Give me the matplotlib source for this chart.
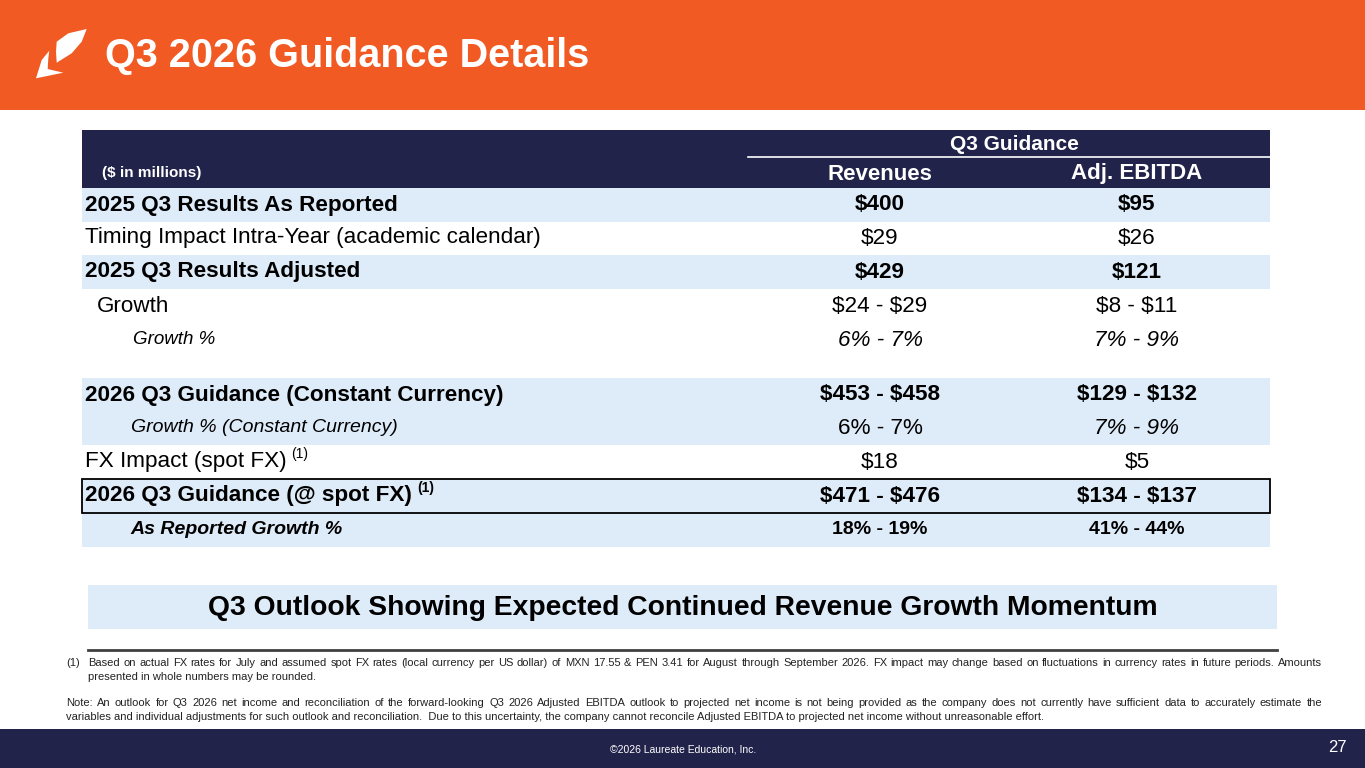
import matplotlib
matplotlib.use("Agg")
import matplotlib.pyplot as plt
from matplotlib.patches import Rectangle, Polygon

plt.rcParams["font.family"] = ["Liberation Sans", "DejaVu Sans"]

# --- данные таблицы ---
title = "Q3 2026 Guidance Details"
units_label = "($ in millions)"
group_header = "Q3 Guidance"
col_headers = ["Revenues", "Adj. EBITDA"]

row_labels = [
    "2025 Q3 Results As Reported",
    "Timing Impact Intra-Year (academic calendar)",
    "2025 Q3 Results Adjusted",
    "Growth",
    "Growth %",
    "2026 Q3 Guidance (Constant Currency)",
    "Growth % (Constant Currency)",
    "FX Impact (spot FX)",
    "2026 Q3 Guidance (@ spot FX)",
    "As Reported Growth %",
]
revenues = ["$400", "$29", "$429", "$24 - $29", "6% - 7%",
            "$453 - $458", "6% - 7%", "$18", "$471 - $476", "18% - 19%"]
adj_ebitda = ["$95", "$26", "$121", "$8 - $11", "7% - 9%",
              "$129 - $132", "7% - 9%", "$5", "$134 - $137", "41% - 44%"]
footnote_mark = [False, False, False, False, False, False, False, True, True, False]

banner = "Q3 Outlook Showing Expected Continued Revenue Growth Momentum"
footnote1 = ["Based on actual FX rates for July and assumed spot FX rates (local currency per US dollar) of MXN 17.55 & PEN 3.41 for August through September 2026. FX impact may change based on fluctuations in currency rates in future periods.  Amounts",
             "presented in whole numbers may be rounded."]
note = ["Note: An outlook for Q3 2026 net income and reconciliation of the forward-looking Q3 2026 Adjusted EBITDA outlook to projected net income is not being provided as the company does not currently have sufficient data to accurately estimate the",
        "variables and individual adjustments for such outlook and reconciliation.  Due to this uncertainty, the company cannot reconcile Adjusted EBITDA to projected net income without unreasonable effort."]
copyright_text = "\u00a92026 Laureate Education, Inc."
page_no = "27"

# --- стиль строк ---
ORANGE = "#F15A22"
NAVY = "#22234A"
LIGHT = "#DEEBF8"
row_tops = [188, 221, 255, 289, 323, 378, 411, 445, 479, 513]
row_h = 34
row_bg = [LIGHT, "white", LIGHT, "white", "white", LIGHT, LIGHT, "white", LIGHT, LIGHT]
label_x = [85, 85, 85, 97, 133, 85, 131, 85, 85, 130]
label_size = [16.2, 16.2, 16.2, 16.2, 13.5, 16.2, 14, 16.2, 16.2, 14]
label_weight = ["bold", "normal", "bold", "normal", "normal", "bold", "normal", "normal", "bold", "bold"]
label_style = ["normal", "normal", "normal", "normal", "italic", "normal", "italic", "normal", "normal", "italic"]
val_size = [16.2, 16.2, 16.2, 16.2, 16.2, 16.2, 16.2, 16.2, 16.2, 14]
val_weight = label_weight[:4] + ["normal", "bold", "normal", "normal", "bold", "bold"]
rev_style = ["normal"] * 4 + ["italic"] + ["normal"] * 5
ebitda_style = ["normal"] * 4 + ["italic", "normal", "italic"] + ["normal"] * 3
col_x = [880, 1137]
tbl_left, tbl_right = 82, 1270

fig = plt.figure(figsize=(13.65, 7.68), dpi=100)
ax = fig.add_axes([0, 0, 1, 1])
ax.set_xlim(0, 1365)
ax.set_ylim(768, 0)
ax.axis("off")
renderer = fig.canvas.get_renderer()
inv = ax.transData.inverted()


def txt(x, y, s, **kw):
    # знаки $ не должны включать mathtext
    return ax.text(x, y, s, parse_math=False, **kw)


def text_width(t):
    bb = t.get_window_extent(renderer=renderer)
    return inv.transform((bb.x1, 0))[0] - inv.transform((bb.x0, 0))[0]


# шапка
ax.add_patch(Rectangle((0, 0), 1365, 110, color=ORANGE, lw=0))
ax.add_patch(Polygon([(86.7, 29), (68.3, 33.3), (56.7, 41.7), (56, 51.7), (56.7, 62.7),
                      (71.7, 53.3), (81.7, 41.7)], closed=True, color="white", lw=0))
ax.add_patch(Polygon([(49.3, 50.7), (41.7, 60), (36, 78.3), (63.3, 72.7), (47.7, 69),
                      (48.3, 58.3)], closed=True, color="white", lw=0))
txt(105, 56, title, color="white", fontsize=28.5, fontweight="bold", va="center", ha="left")

# заголовок таблицы
ax.add_patch(Rectangle((tbl_left, 130), tbl_right - tbl_left, 58, color=NAVY, lw=0))
txt(1014, 145, group_header, color="white", fontsize=15, fontweight="bold",
    ha="center", va="center")
ax.plot([748, tbl_right], [157, 157], color="white", lw=1.2)
for cx, h in zip(col_x, col_headers):
    txt(cx, 174, h, color="white", fontsize=16, fontweight="bold", ha="center", va="center")
txt(102, 173, units_label, color="white", fontsize=11, fontweight="bold", ha="left", va="center")

# строки
for i, lab in enumerate(row_labels):
    top = row_tops[i]
    yc = top + row_h / 2
    if row_bg[i] != "white":
        ax.add_patch(Rectangle((tbl_left, top), tbl_right - tbl_left, row_h, color=row_bg[i], lw=0))
    t = txt(label_x[i], yc, lab, fontsize=label_size[i], fontweight=label_weight[i],
            fontstyle=label_style[i], ha="left", va="center", color="black")
    if footnote_mark[i]:
        w = text_width(t)
        txt(label_x[i] + w + 5, yc - 8, "(1)", fontsize=10, fontweight=label_weight[i],
            ha="left", va="center", color="black")
    txt(col_x[0], yc, revenues[i], fontsize=val_size[i], fontweight=val_weight[i],
        fontstyle=rev_style[i], ha="center", va="center", color="black")
    txt(col_x[1], yc, adj_ebitda[i], fontsize=val_size[i], fontweight=val_weight[i],
        fontstyle=ebitda_style[i], ha="center", va="center", color="black")

# рамка вокруг строки с гайденсом по спот-курсу
ax.add_patch(Rectangle((tbl_left, row_tops[8]), tbl_right - tbl_left, row_h, fill=False,
                       ec="black", lw=1.3))

# баннер
ax.add_patch(Rectangle((88, 585), 1189, 44, color=LIGHT, lw=0))
txt(683, 608, banner, fontsize=20.3, fontweight="bold", ha="center", va="center", color="black")

ax.plot([88, 1277], [650, 650], color="#404040", lw=2)


# сноски (первая строка по ширине)
def justify(x0, x1, y, line, size):
    words = line.split()
    objs = [txt(0, y, w, fontsize=size, ha="left", va="center", color="#222222")
            for w in words]
    widths = [text_width(o) for o in objs]
    gap = (x1 - x0 - sum(widths)) / (len(words) - 1)
    x = x0
    for o, w in zip(objs, widths):
        o.set_x(x)
        x += w + gap


fn_size = 8
txt(66, 663, "(1)", fontsize=fn_size, ha="left", va="center", color="#222222")
justify(88, 1322, 663, footnote1[0], fn_size)
txt(88, 677, footnote1[1], fontsize=fn_size, ha="left", va="center", color="#222222")
justify(66, 1322, 703, note[0], fn_size)
txt(66, 717, note[1], fontsize=fn_size, ha="left", va="center", color="#222222")

# подвал
ax.add_patch(Rectangle((0, 729), 1365, 39, color=NAVY, lw=0))
txt(683, 749, copyright_text, fontsize=7.5, color="white", ha="center", va="center")
txt(1347, 748, page_no, fontsize=12, color="white", ha="right", va="center")

fig.savefig("out.png", dpi=100)
plt.close(fig)
